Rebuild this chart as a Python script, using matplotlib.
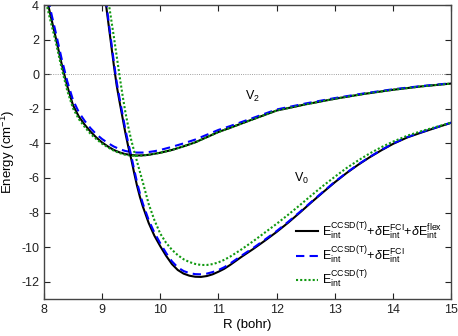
import numpy as np
import matplotlib
matplotlib.use('Agg')
import matplotlib.pyplot as plt

plt.rcParams['font.family'] = ['Liberation Sans', 'DejaVu Sans']
plt.rcParams['mathtext.fontset'] = 'custom'
plt.rcParams['mathtext.rm'] = 'Liberation Sans'
plt.rcParams['mathtext.it'] = 'Liberation Sans:italic'
plt.rcParams['axes.unicode_minus'] = False

# V2 curves
r_v2 = [8.0, 8.1, 8.2, 8.3, 8.4, 8.5, 8.6, 8.7, 8.8, 8.9, 9.0, 9.1, 9.2, 9.3, 9.4,
        9.5, 9.6, 9.7, 9.8, 9.9, 10.0, 10.2, 10.4, 10.6, 10.8, 11.0, 11.2, 11.5,
        12.0, 12.5, 13.0, 13.5, 14.0, 14.5, 15.0]
v2_full = [5.1, 3.6, 2.15, 0.65, -0.68, -1.8, -2.45, -2.92, -3.32, -3.66, -3.95, -4.18,
           -4.38, -4.52, -4.62, -4.67, -4.7, -4.69, -4.66, -4.6, -4.54, -4.38, -4.17,
           -3.94, -3.64, -3.34, -3.1, -2.72, -2.1, -1.74, -1.42, -1.14, -0.9, -0.7, -0.54]
v2_fci = [5.4, 3.9, 2.45, 0.95, -0.4, -1.5, -2.2, -2.7, -3.12, -3.47, -3.75, -3.98,
          -4.18, -4.33, -4.44, -4.5, -4.53, -4.53, -4.5, -4.45, -4.38, -4.2, -4.0,
          -3.78, -3.5, -3.22, -3.0, -2.64, -2.04, -1.69, -1.38, -1.11, -0.87, -0.68, -0.52]
v2_ccsdt = [4.7, 3.25, 1.9, 0.4, -0.95, -1.98, -2.6, -3.05, -3.45, -3.75, -4.02, -4.23,
            -4.42, -4.56, -4.66, -4.71, -4.72, -4.7, -4.66, -4.6, -4.54, -4.38, -4.17,
            -3.94, -3.64, -3.34, -3.1, -2.72, -2.1, -1.74, -1.42, -1.14, -0.9, -0.7, -0.54]

# V0 curves
r_v0 = [9.0, 9.05, 9.1, 9.15, 9.2, 9.25, 9.3, 9.35, 9.4, 9.45, 9.5, 9.55, 9.6, 9.65,
        9.7, 9.8, 9.9, 10.0, 10.1, 10.2, 10.3, 10.4, 10.5, 10.6, 10.7, 10.8, 10.9,
        11.0, 11.1, 11.2, 11.4, 11.6, 11.8, 12.0, 12.2, 12.4, 12.6, 12.8, 13.0, 13.2,
        13.4, 13.6, 13.8, 14.0, 14.25, 14.5, 14.75, 15.0]
v0_full = [5.75, 4.45, 3.15, 1.85, 0.55, -0.65, -1.6, -2.5, -3.4, -4.2, -4.9, -5.7,
           -6.45, -7.1, -7.65, -8.6, -9.35, -9.95, -10.5, -10.98, -11.32, -11.53,
           -11.65, -11.71, -11.72, -11.67, -11.57, -11.42, -11.25, -11.03, -10.55,
           -10.1, -9.62, -9.12, -8.58, -8.0, -7.4, -6.82, -6.25, -5.72, -5.24, -4.8,
           -4.4, -4.03, -3.65, -3.36, -3.08, -2.81]
v0_fci = [5.95, 4.65, 3.35, 2.05, 0.75, -0.45, -1.4, -2.3, -3.2, -4.0, -4.7, -5.5,
          -6.25, -6.9, -7.48, -8.43, -9.17, -9.78, -10.34, -10.82, -11.17, -11.38,
          -11.5, -11.56, -11.57, -11.53, -11.44, -11.32, -11.16, -10.95, -10.48,
          -10.04, -9.56, -9.07, -8.53, -7.96, -7.37, -6.79, -6.22, -5.7, -5.22, -4.78,
          -4.38, -4.01, -3.63, -3.34, -3.07, -2.8]
v0_ccsdt = [6.6, 5.5, 4.4, 3.3, 2.2, 1.05, -0.1, -1.2, -2.2, -3.05, -3.8, -4.45,
            -5.05, -5.65, -6.25, -7.5, -8.45, -9.22, -9.75, -10.15, -10.46, -10.7,
            -10.86, -10.97, -11.03, -11.03, -10.98, -10.88, -10.73, -10.55, -10.12,
            -9.65, -9.15, -8.65, -8.12, -7.57, -7.0, -6.45, -5.93, -5.43, -4.99, -4.58,
            -4.22, -3.9, -3.55, -3.28, -3.04, -2.8]

labels = [r'$\mathrm{E}_{\mathrm{int}}^{\mathrm{CCSD(T)}}{+}\delta\mathrm{E}_{\mathrm{int}}^{\mathrm{FCI}}{+}\delta\mathrm{E}_{\mathrm{int}}^{\mathrm{flex}}$',
          r'$\mathrm{E}_{\mathrm{int}}^{\mathrm{CCSD(T)}}{+}\delta\mathrm{E}_{\mathrm{int}}^{\mathrm{FCI}}$',
          r'$\mathrm{E}_{\mathrm{int}}^{\mathrm{CCSD(T)}}$']

fig = plt.figure(figsize=(4.58, 3.36), dpi=100)
ax = fig.add_axes([0.096, 0.110, 0.889, 0.875])

ax.axhline(0, color='gray', lw=0.6, ls=':')

ax.plot(r_v2, v2_full, color='k', lw=1.5, label=labels[0])
ax.plot(r_v2, v2_fci, color='#0000ff', lw=1.5, ls=(0, (4, 2.5)), label=labels[1])
ax.plot(r_v2, v2_ccsdt, color='#119911', lw=1.5, ls=(0, (1, 1)), label=labels[2])
ax.plot(r_v0, v0_full, color='k', lw=1.5)
ax.plot(r_v0, v0_fci, color='#0000ff', lw=1.5, ls=(0, (4, 2.5)))
ax.plot(r_v0, v0_ccsdt, color='#119911', lw=1.5, ls=(0, (1, 1)))

ax.text(11.45, -1.3, r'$\mathrm{V}_2$', fontsize=9, va='center')
ax.text(12.3, -6.05, r'$\mathrm{V}_0$', fontsize=9, va='center')

ax.set_xlim(8, 15)
ax.set_ylim(-13, 4)
ax.set_xticks(range(8, 16))
ax.set_yticks(range(-12, 5, 2))
ax.tick_params(direction='in', top=True, right=True, length=4, labelsize=9,
               colors='#222222')
for s in ax.spines.values():
    s.set_color('#444444')
    s.set_linewidth(1.0)
ax.set_xlabel('R (bohr)', fontsize=9.5, labelpad=2)
ax.set_ylabel(r'Energy (cm$^{-1}$)', fontsize=9.5)
ax.yaxis.set_label_coords(-0.066, 0.5)

ax.legend(loc='lower right', frameon=False, fontsize=9, handlelength=1.8,
          handletextpad=0.3, labelspacing=0.2, borderaxespad=0.3)

plt.savefig('out.png', dpi=100)
